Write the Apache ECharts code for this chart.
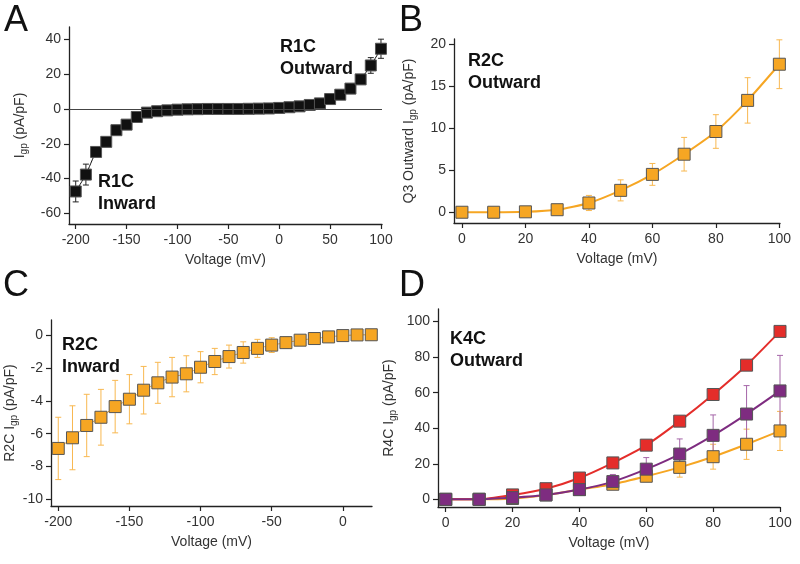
<!DOCTYPE html>
<html>
<head>
<meta charset="utf-8">
<script src="https://cdn.jsdelivr.net/npm/echarts@6/dist/echarts.min.js"></script>
<style>
html,body{margin:0;padding:0;background:#fff;}
#chart{width:800px;height:564px;}
</style>
</head>
<body>
<div id="chart"></div>
<script>
// ---- Data ----
const voltA = [-200,-190,-180,-170,-160,-150,-140,-130,-120,-110,-100,-90,-80,-70,-60,-50,-40,-30,-20,-10,0,10,20,30,40,50,60,70,80,90,100];
const igpA  = [-47.4,-37.7,-24.7,-18.9,-12.2,-9,-4.6,-2.1,-1.3,-0.8,-0.4,-0.2,-0.1,0,0,0,0,0.1,0.2,0.3,0.6,1,1.5,2.3,3.2,5.7,8.2,11.7,17,25,34.6];
const errA  = [6,6,2,1.5,1,0.8,0.5,0.5,0.4,0.3,0.3,0.2,0.2,0.2,0.2,0.2,0.2,0.2,0.2,0.2,0.2,0.3,0.3,0.4,0.5,0.6,0.8,1,2.5,4.5,5.5];

const voltB = [0,10,20,30,40,50,60,70,80,90,100];
const igpB  = [0,0,0.05,0.3,1.1,2.6,4.5,6.9,9.6,13.3,17.6];
const errB  = [0.1,0.1,0.2,0.5,0.9,1.25,1.3,2,2,2.7,2.9];

const voltC = [-200,-190,-180,-170,-160,-150,-140,-130,-120,-110,-100,-90,-80,-70,-60,-50,-40,-30,-20,-10,0,10,20];
const igpC  = [-6.9,-6.25,-5.5,-5.0,-4.35,-3.9,-3.35,-2.9,-2.55,-2.35,-1.95,-1.6,-1.3,-1.05,-0.8,-0.6,-0.45,-0.3,-0.2,-0.1,-0.02,0.02,0.03];
const errC  = [1.9,1.95,1.9,1.7,1.6,1.5,1.45,1.25,1.2,1.1,0.95,0.8,0.7,0.65,0.55,0.45,0.35,0.25,0.15,0.1,0.05,0.05,0.05];

const voltD = [0,10,20,30,40,50,60,70,80,90,100];
const redD    = [0,0,2.5,6,12,20.5,30.5,44,59,75.5,94.5];
const redErrD = [0.3,0.3,0.8,1,1,1,1.5,2.5,3,2,1.5];
const purD    = [0,0,1,2.5,5.5,10,17,25.5,36,48,61];
const purErrD = [0.3,0.3,0.8,1,1.5,4,6.5,8.5,11.5,16,20];
const orgD    = [0,0,0.5,2.5,5.5,8.5,13,18,24,31,38.5];
const orgErrD = [0.3,0.3,0.5,1,1.5,2,3,5.5,7,8.5,11];

const ticksAx = [-200,-150,-100,-50,0,50,100];
const ticksAy = [-60,-40,-20,0,20,40];
const ticksBx = [0,20,40,60,80,100];
const ticksBy = [0,5,10,15,20];
const ticksCx = [-200,-150,-100,-50,0];
const ticksCy = [-10,-8,-6,-4,-2,0];
const ticksDx = [0,20,40,60,80,100];
const ticksDy = [0,20,40,60,80,100];

// ---- Helpers ----
const FONT = 'Liberation Sans, Arial, sans-serif';
const ORANGE = '#F6A623', ORANGE_ERR = '#F8B850';
const RED = '#E42D2A', RED_ERR = '#EE6A60';
const PURPLE = '#7E2C80', PURPLE_ERR = '#A566A8';

function zip(xs, ys, es) { return xs.map((x, i) => es ? [x, ys[i], es[i]] : [x, ys[i]]); }

function axis(idx, min, max, ticks, name, nameGap, isY) {
  return {
    type: 'value', gridIndex: idx, min: min, max: max,
    name: name, nameLocation: 'middle', nameGap: nameGap,
    nameTextStyle: {
      fontFamily: FONT, fontSize: 14, color: '#333',
      rich: {
        m: { fontFamily: FONT, fontSize: 14, color: '#333', verticalAlign: 'middle' },
        s: { fontFamily: FONT, fontSize: 10, color: '#333', verticalAlign: 'bottom', padding: [8, 0, 0, 0] }
      }
    },
    axisLine: { show: true, onZero: false, lineStyle: { color: '#222', width: 1.3 } },
    axisTick: { show: true, inside: false, length: 5, customValues: ticks, lineStyle: { color: '#222', width: 1.2 } },
    axisLabel: { customValues: ticks, fontFamily: FONT, fontSize: 14, color: '#333', margin: isY ? 8 : 9 },
    splitLine: { show: false }
  };
}

function lineSeries(idx, data, color, size, lw) {
  return {
    type: 'line', xAxisIndex: idx, yAxisIndex: idx, data: data,
    symbol: 'rect', symbolSize: size, smooth: 0.2,
    lineStyle: { color: color, width: lw },
    itemStyle: { color: color, borderColor: '#555', borderWidth: 1 },
    z: 3, animation: false, clip: false
  };
}

function errSeries(idx, data, color) {
  return {
    type: 'custom', xAxisIndex: idx, yAxisIndex: idx, data: data,
    encode: { x: 0, y: 1 },
    renderItem: function (params, api) {
      const x = api.value(0), y = api.value(1), e = api.value(2);
      const t = api.coord([x, y + e]), b = api.coord([x, y - e]);
      const hw = 3;
      const st = { stroke: color, lineWidth: 1 };
      return {
        type: 'group', children: [
          { type: 'line', shape: { x1: t[0], y1: t[1], x2: b[0], y2: b[1] }, style: st },
          { type: 'line', shape: { x1: t[0] - hw, y1: t[1], x2: t[0] + hw, y2: t[1] }, style: st },
          { type: 'line', shape: { x1: b[0] - hw, y1: b[1], x2: b[0] + hw, y2: b[1] }, style: st }
        ]
      };
    },
    z: 2, animation: false, silent: true
  };
}

function txt(x, y, s, size, bold) {
  return {
    type: 'text', left: x, top: y,
    style: { text: s, fontFamily: FONT, fontSize: size, fontWeight: bold ? 'bold' : 'normal', fill: '#111', lineHeight: 22 }
  };
}

const chart = echarts.init(document.getElementById('chart'), null, { renderer: 'canvas' });

const option = {
  backgroundColor: '#fff',
  animation: false,
  grid: [
    { left: 69, top: 27, width: 313, height: 197 },
    { left: 454, top: 39, width: 326, height: 184 },
    { left: 51, top: 320, width: 321, height: 186 },
    { left: 438, top: 309, width: 342, height: 198 }
  ],
  xAxis: [
    axis(0, -206.6, 101, ticksAx, 'Voltage (mV)', 29, false),
    axis(1, -2.5, 100.2, ticksBx, 'Voltage (mV)', 29, false),
    axis(2, -205.1, 20.5, ticksCx, 'Voltage (mV)', 29, false),
    axis(3, -2.3, 100, ticksDx, 'Voltage (mV)', 29, false)
  ],
  yAxis: [
    axis(0, -66.1, 47.1, ticksAy, '{m|I}{s|gp}{m| (pA/pF)}', 40, true),
    axis(1, -1.28, 20.6, ticksBy, '{m|Q3 Outward I}{s|gp}{m| (pA/pF)}', 36, true),
    axis(2, -10.41, 0.93, ticksCy, '{m|R2C I}{s|gp}{m| (pA/pF)}', 31, true),
    axis(3, -4.3, 107.1, ticksDy, '{m|R4C I}{s|gp}{m| (pA/pF)}', 40, true)
  ],
  series: [
    // A
    errSeries(0, zip(voltA, igpA, errA), '#222'),
    lineSeries(0, zip(voltA, igpA), '#111', 11, 1),
    {
      type: 'line', xAxisIndex: 0, yAxisIndex: 0, data: [], animation: false,
      markLine: {
        silent: true, symbol: ['none', 'none'], label: { show: false },
        lineStyle: { color: '#444', width: 1, type: 'solid' },
        data: [{ yAxis: 0 }]
      }
    },
    // B
    errSeries(1, zip(voltB, igpB, errB), ORANGE_ERR),
    lineSeries(1, zip(voltB, igpB), ORANGE, 12, 2),
    // C
    errSeries(2, zip(voltC, igpC, errC), ORANGE_ERR),
    lineSeries(2, zip(voltC, igpC), ORANGE, 12, 1),
    // D
    errSeries(3, zip(voltD, orgD, orgErrD), ORANGE_ERR),
    lineSeries(3, zip(voltD, orgD), ORANGE, 12, 2),
    errSeries(3, zip(voltD, redD, redErrD), RED_ERR),
    lineSeries(3, zip(voltD, redD), RED, 12, 2),
    errSeries(3, zip(voltD, purD, purErrD), PURPLE_ERR),
    lineSeries(3, zip(voltD, purD), PURPLE, 12, 2)
  ],
  graphic: [
    txt(4, 3, 'A', 36, false),
    txt(399, 3, 'B', 36, false),
    txt(3, 268, 'C', 36, false),
    txt(399, 268, 'D', 36, false),
    txt(280, 36, 'R1C\nOutward', 18, true),
    txt(98, 171, 'R1C\nInward', 18, true),
    txt(468, 50, 'R2C\nOutward', 18, true),
    txt(62, 334, 'R2C\nInward', 18, true),
    txt(450, 328, 'K4C\nOutward', 18, true)
  ]
};
chart.setOption(option);
</script>
</body>
</html>
